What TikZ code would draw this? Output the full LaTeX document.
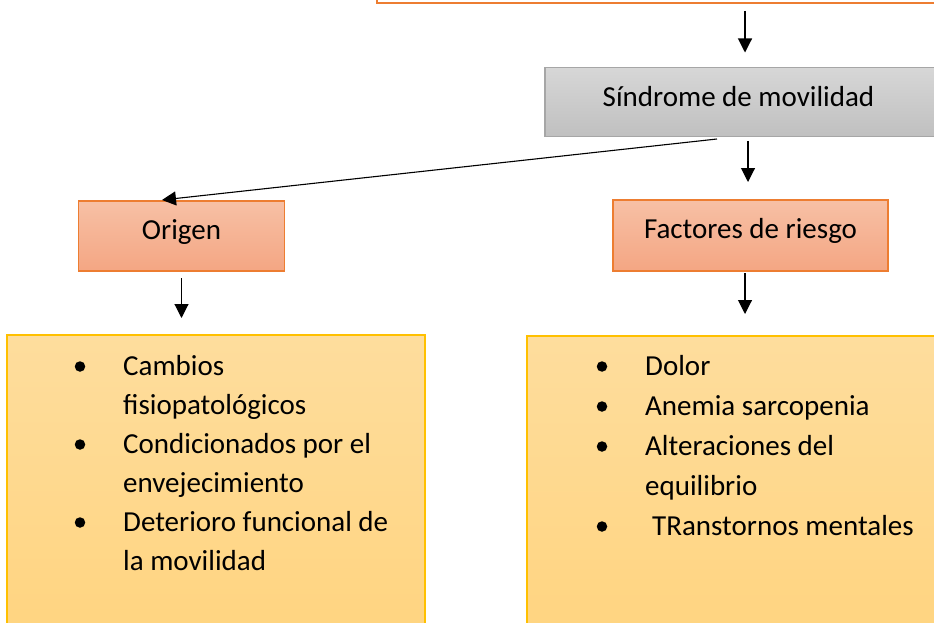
\documentclass[tikz,border=0pt]{standalone}
\usepackage{fontspec}
\setmainfont{Carlito}
\usetikzlibrary{arrows.meta}
\definecolor{orangeB}{HTML}{ED7D31}
\definecolor{salTop}{HTML}{F7C0A5}
\definecolor{salBot}{HTML}{F4A683}
\definecolor{grayTop}{HTML}{D7D7D7}
\definecolor{grayBot}{HTML}{C0C0C0}
\definecolor{grayB}{HTML}{A6A6A6}
\definecolor{goldTop}{HTML}{FEDD9D}
\definecolor{goldBot}{HTML}{FFD47F}
\definecolor{goldB}{HTML}{FFC000}
\tikzset{
  box/.style={rectangle, outer sep=0pt, inner sep=0pt},
  salbox/.style={box, draw=orangeB, line width=1.2pt, top color=salTop, bottom color=salBot},
  graybox/.style={box, draw=grayB, line width=1.2pt, top color=grayTop, bottom color=grayBot},
  goldbox/.style={box, draw=goldB, line width=1.2pt, top color=goldTop, bottom color=goldBot},
  txt/.style={anchor=base, inner sep=0pt, font=\fontsize{29}{39}\selectfont},
  itm/.style={anchor=base west, inner sep=0pt, font=\fontsize{29}{39}\selectfont},
  bul/.style={circle, fill=black, minimum size=10.5pt, inner sep=0pt},
  arr/.style={-{Triangle[length=14pt,width=14pt]}, line width=1.1pt, black}
}
\begin{document}
\begin{tikzpicture}[x=1pt,y=-1pt]
\useasboundingbox (0,0) rectangle (934,623);
\clip (0,0) rectangle (934,623);
% boxes
\node[box, draw=orangeB, line width=2.5pt, fill=white, minimum width=620pt, minimum height=40pt] (top) at (687,-17) {};
\node[graybox, minimum width=410pt, minimum height=69pt] (gray) at (750,102) {};
\node[txt] (grayT) at (738.5,106.7) {Síndrome de movilidad};
\node[salbox, minimum width=206pt, minimum height=70pt] (origen) at (181.5,236) {};
\node[txt] (origenT) at (181.5,239.3) {Origen};
\node[salbox, minimum width=275pt, minimum height=71pt] (factores) at (750.5,235.5) {};
\node[txt] (factoresT) at (750.5,238.5) {Factores de riesgo};
\node[goldbox, minimum width=418pt, minimum height=310pt] (boxL) at (216,490) {};
\node[goldbox, minimum width=430pt, minimum height=310pt] (boxR) at (742,491) {};
% left list
\node[bul] (bl1) at (80,366.5) {};
\node[bul] (bl2) at (80,444.5) {};
\node[bul] (bl3) at (80,522.5) {};
\node[itm] (l1) at (123,375) {Cambios};
\node[itm] (l2) at (123,414) {fisiopatológicos};
\node[itm] (l3) at (123,453) {Condicionados por el};
\node[itm] (l4) at (123,492) {envejecimiento};
\node[itm] (l5) at (123,531) {Deterioro funcional de};
\node[itm] (l6) at (123,570) {la movilidad};
% right list
\node[bul] (br1) at (602,366.5) {};
\node[bul] (br2) at (602,406.5) {};
\node[bul] (br3) at (602,446.5) {};
\node[bul] (br4) at (602,526.5) {};
\node[itm] (r1) at (645,375) {Dolor};
\node[itm] (r2) at (645,415) {Anemia sarcopenia};
\node[itm] (r3) at (645,455) {Alteraciones del};
\node[itm] (r4) at (645,495) {equilibrio};
\node[itm] (r5) at (652,535) {TRanstornos mentales};
% connectors
\coordinate (xa) at (745,0);
\coordinate (xb) at (748,0);
\draw[arr, shorten <=8pt, shorten >=15pt] (top.south -| xa) -- (gray.north -| xa);
\draw[arr, shorten <=4.5pt, shorten >=18pt] (gray.south -| xb) -- (factores.north -| xb);
\draw[arr] ([shift={(172,2.5)}]gray.south west) -- ([shift={(83.5,-1)}]origen.north west);
\draw[arr, shorten <=7pt, shorten >=17pt] (origen.south) -- (origen.south |- boxL.north);
\draw[arr, shorten <=2pt, shorten >=22pt] (factores.south -| xa) -- (boxR.north -| xa);
\end{tikzpicture}
\end{document}
